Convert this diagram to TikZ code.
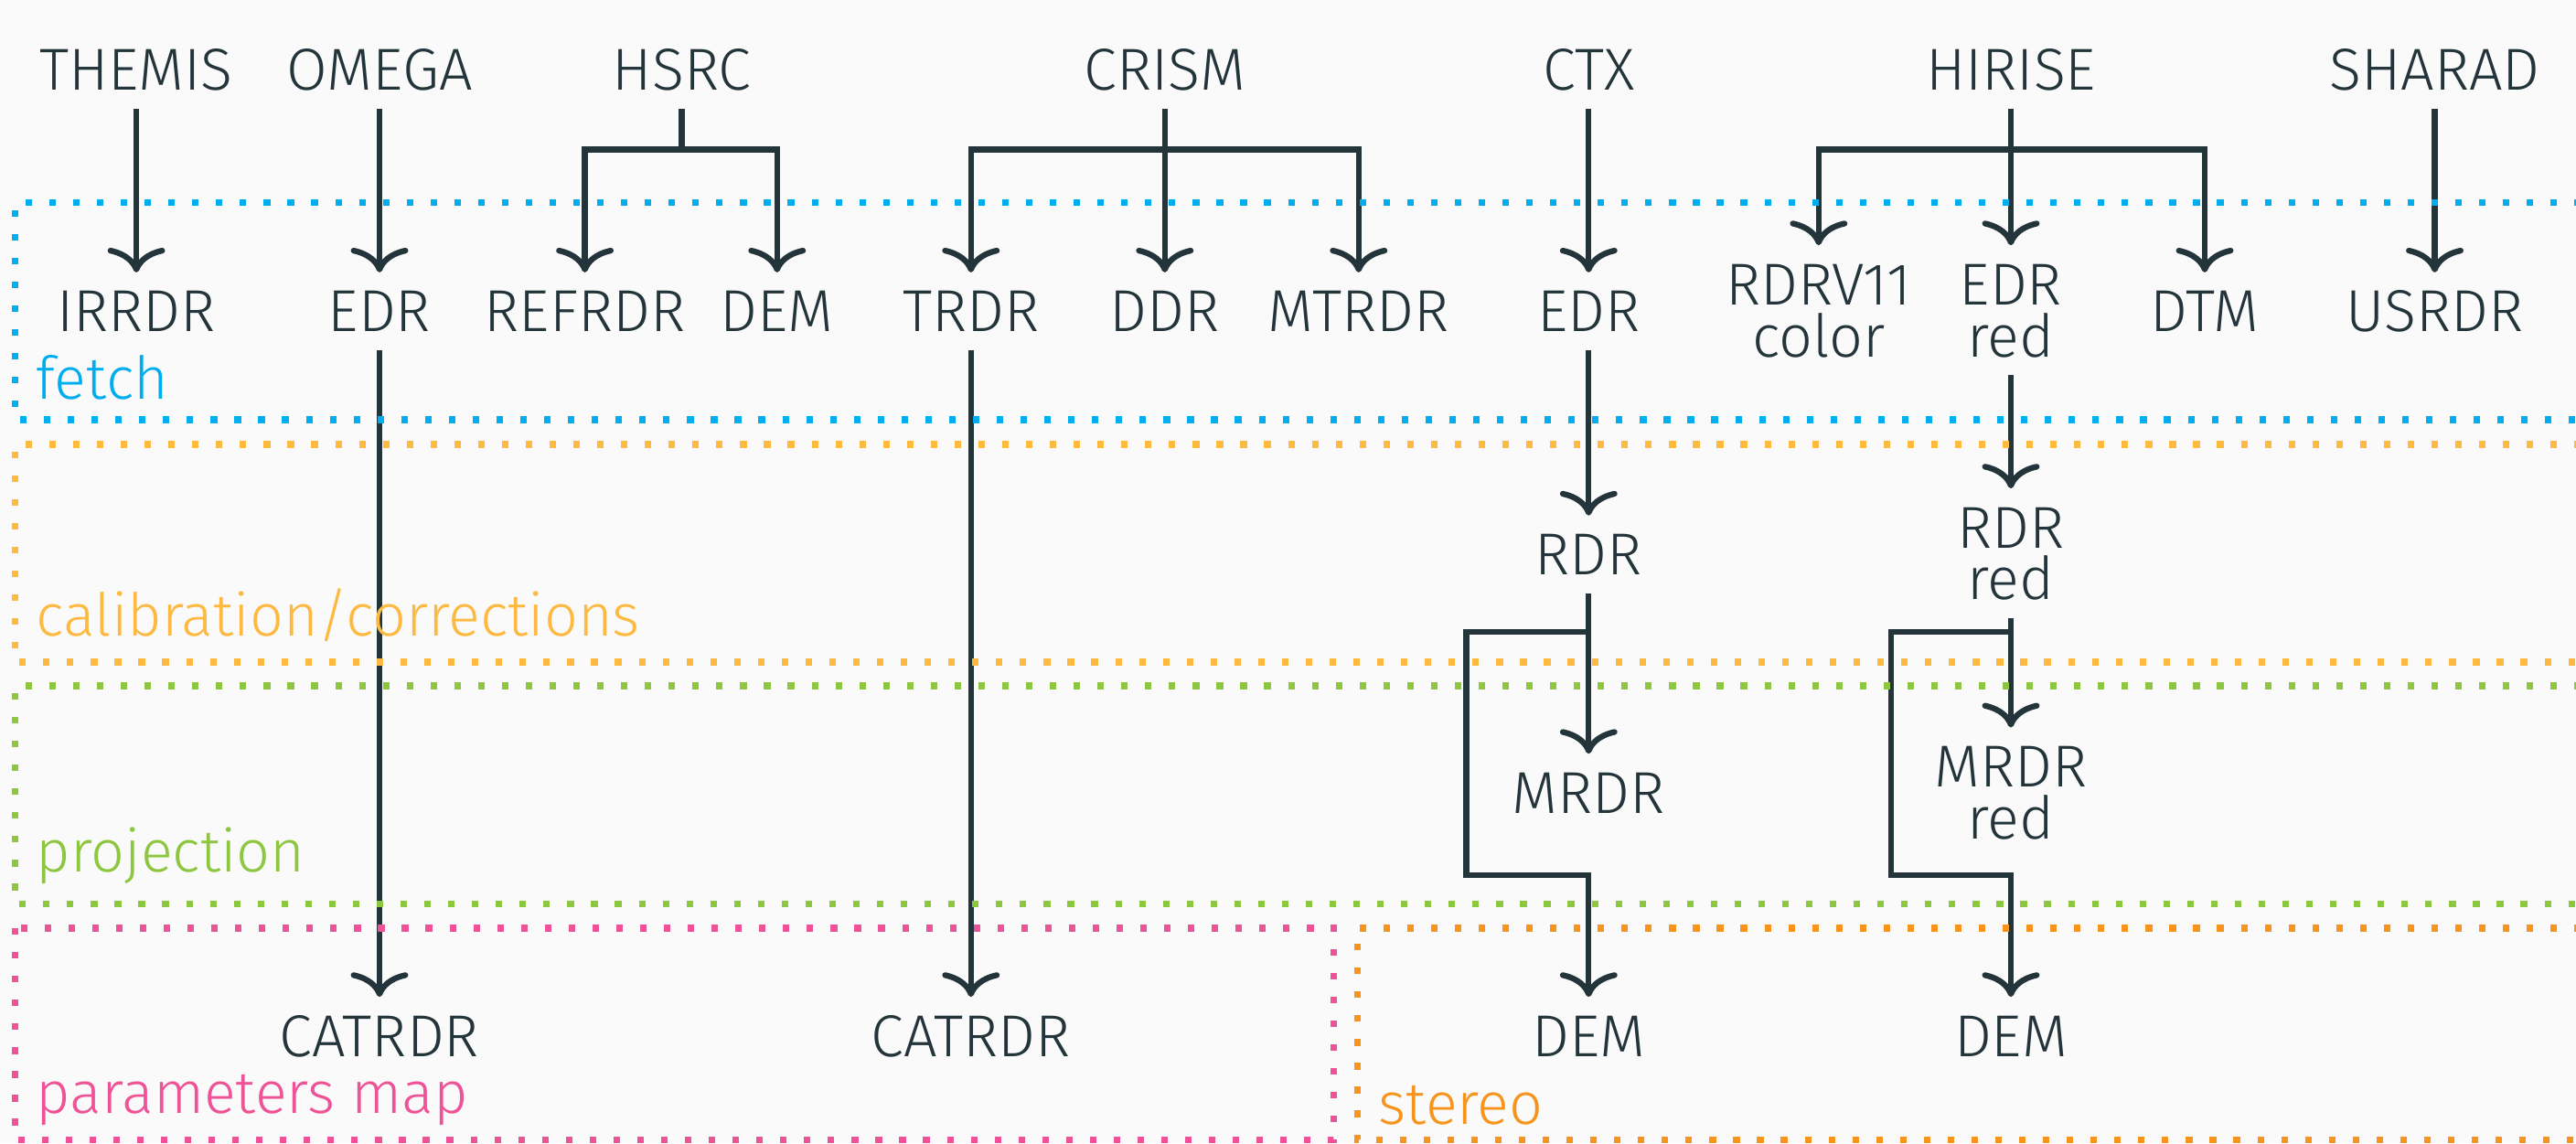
\documentclass[tikz,border=0pt]{standalone}
\usepackage{fontspec}
\setmainfont{Fira Sans}[UprightFont=* Light]
\usetikzlibrary{arrows.meta}
\definecolor{ink}{RGB}{35,53,58}
\definecolor{bgc}{RGB}{250,250,250}
\definecolor{cfetch}{RGB}{0,174,239}
\definecolor{ccal}{RGB}{254,185,64}
\definecolor{cproj}{RGB}{141,198,63}
\definecolor{cpar}{RGB}{239,83,151}
\definecolor{cster}{RGB}{247,148,29}
\newcommand\twol[2]{\vtop{\baselineskip=31.6pt\lineskiplimit=-100pt\halign{\hfil##\hfil\cr#1\cr#2\cr}}}
\begin{document}
\begin{tikzpicture}[x=1pt,y=1pt,
  lbl/.style={font=\fontsize{36}{31.6}\selectfont, text=ink, inner sep=0pt, text height=36pt, text depth=11pt, anchor=base},
  lbltwo/.style={lbl, text depth=42.6pt},
  conn/.style={draw=ink, line width=3.5pt, line join=miter},
  arr/.style={conn, -{To[length=15pt,width=35pt,round]}},
  band/.style={line width=4pt, dash pattern=on 4pt off 10.5pt},
  blbl/.style={font=\fontsize{36}{40}\selectfont, inner sep=0pt, anchor=base west}]
\fill[bgc] (0,0) rectangle (1568,-696);
\useasboundingbox (0,0) rectangle (1568,-696);
\clip (0,0) rectangle (1568,-696);
% top row
\node[lbl] (themis) at (83,-55) {THEMIS};
\node[lbl] (omega) at (231,-55) {OMEGA};
\node[lbl] (hsrc) at (415,-55) {HSRC};
\node[lbl] (crism) at (709,-55) {CRISM};
\node[lbl] (ctx) at (967,-55) {CTX};
\node[lbl] (hirise) at (1224,-55) {HIRISE};
\node[lbl] (sharad) at (1482,-55) {SHARAD};
% second row
\node[lbl] (irrdr) at (83,-202) {IRRDR};
\node[lbl] (edro) at (231,-202) {EDR};
\node[lbl] (refrdr) at (356,-202) {REFRDR};
\node[lbl] (demh) at (473,-202) {DEM};
\node[lbl] (trdr) at (591,-202) {TRDR};
\node[lbl] (ddr) at (709,-202) {DDR};
\node[lbl] (mtrdr) at (827,-202) {MTRDR};
\node[lbl] (edrc) at (967,-202) {EDR};
\node[lbltwo] (rdrv) at (1107,-185.5) {\twol{RDRV11}{color}};
\node[lbltwo] (edrr) at (1224,-185.5) {\twol{EDR}{red}};
\node[lbl] (dtm) at (1342,-202) {DTM};
\node[lbl] (usrdr) at (1482,-202) {USRDR};
% calibration
\node[lbl] (rdrc) at (967,-350) {RDR};
\node[lbltwo] (rdrr) at (1224,-333.5) {\twol{RDR}{red}};
% projection
\node[lbl] (mrdrc) at (967,-495) {MRDR};
\node[lbltwo] (mrdrr) at (1224,-479) {\twol{MRDR}{red}};
% bottom
\node[lbl] (cato) at (231,-643) {CATRDR};
\node[lbl] (catc) at (591,-643) {CATRDR};
\node[lbl] (demc) at (967,-643) {DEM};
\node[lbl] (demr) at (1224,-643) {DEM};
% junction coordinates
\coordinate (hsrcJ) at (415,-91);
\coordinate (crismJ) at (709,-91);
\coordinate (hiriseJ) at (1224,-91);
\coordinate (ctxA) at (967,-384.6);
\coordinate (ctxB) at (892.5,-532.6);
\coordinate (hirA) at (1224,-384.6);
\coordinate (hirB) at (1151,-532.6);
% connectors
\draw[arr] (themis.south) -- (irrdr.north);
\draw[arr] (omega.south) -- (edro.north);
\draw[arr] (hsrc.south) -- (hsrcJ) -| (refrdr.north);
\draw[arr] (hsrc.south) -- (hsrcJ) -| (demh.north);
\draw[arr] (crism.south) -- (crismJ) -| (trdr.north);
\draw[arr] (crism.south) -- (ddr.north);
\draw[arr] (crism.south) -- (crismJ) -| (mtrdr.north);
\draw[arr] (ctx.south) -- (edrc.north);
\draw[arr] (hirise.south) -- (hiriseJ) -| (rdrv.north);
\draw[arr] (hirise.south) -- (edrr.north);
\draw[arr] (hirise.south) -- (hiriseJ) -| (dtm.north);
\draw[arr] (sharad.south) -- (usrdr.north);
\draw[arr] (edro.south) -- (cato.north);
\draw[arr] (trdr.south) -- (catc.north);
\draw[arr] (edrc.south) -- (rdrc.north);
\draw[arr] (edrr.south) -- (rdrr.north);
\draw[arr] (rdrc.south) -- (mrdrc.north);
\draw[arr] (rdrr.south) -- (mrdrr.north);
\draw[arr] (rdrc.south) -- (ctxA) -| (ctxB) -| (demc.north);
\draw[arr] (rdrr.south) -- (hirA) -| (hirB) -| (demr.north);
% bands
\draw[band, cfetch] (1600,-123.4) -- (9.4,-123.4) -- (9.4,-255.5) -- (1600,-255.5);
\draw[band, ccal] (1600,-270.5) -- (9.4,-270.5) -- (9.4,-403) -- (1600,-403);
\draw[band, cproj] (1600,-417.5) -- (9.4,-417.5) -- (9.4,-550) -- (1600,-550);
\draw[band, cpar] (9.4,-565) rectangle (812,-694);
\draw[band, cster] (1600,-565) -- (826.5,-565) -- (826.5,-694) -- (1600,-694);
\node[blbl, text=cfetch] (lfetch) at (22,-243) {fetch};
\node[blbl, text=ccal] (lcal) at (22,-387.4) {calibration/corrections};
\node[blbl, text=cproj] (lproj) at (22,-530.8) {projection};
\node[blbl, text=cpar] (lpar) at (22,-677.8) {parameters map};
\node[blbl, text=cster] (lster) at (839,-684.4) {stereo};
\end{tikzpicture}
\end{document}
